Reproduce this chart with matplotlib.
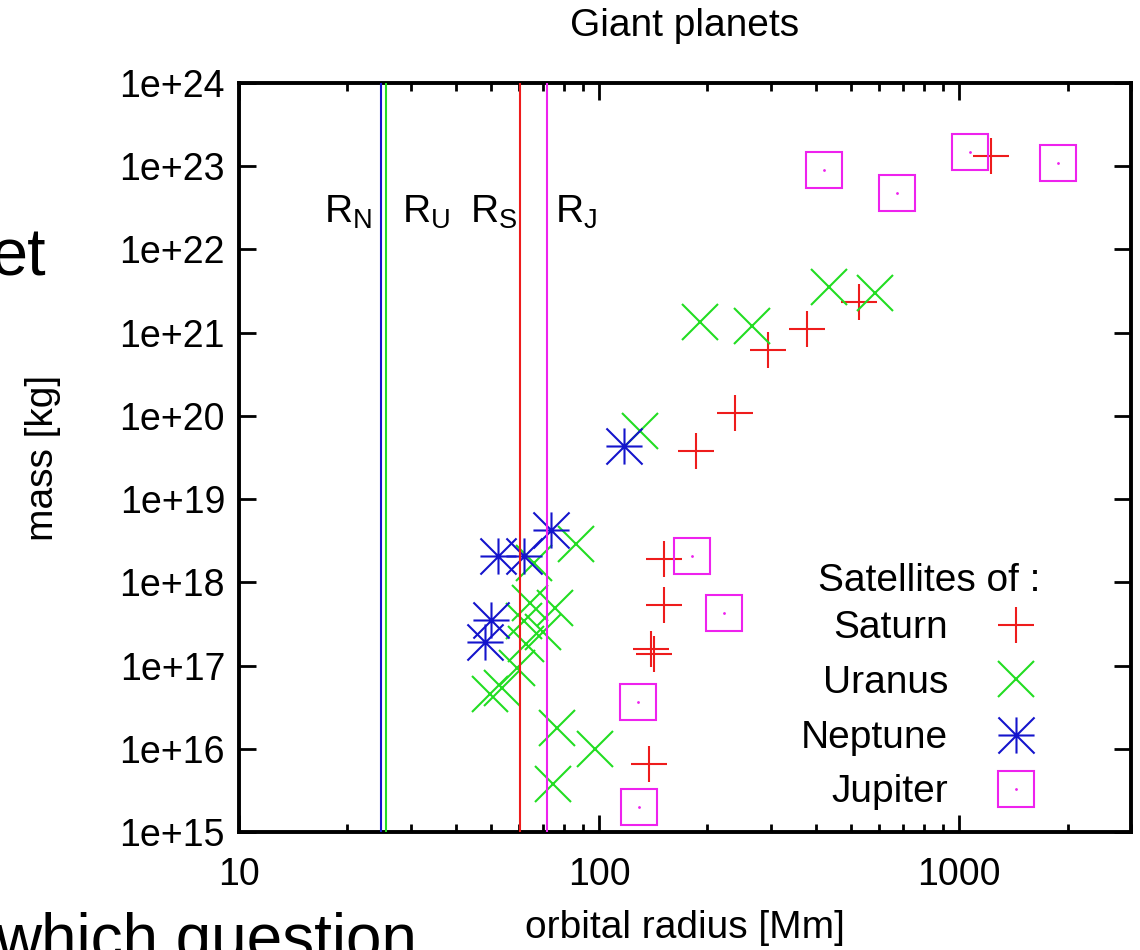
import numpy as np
import matplotlib
matplotlib.use("Agg")
import matplotlib.pyplot as plt
from matplotlib.path import Path
from matplotlib.ticker import LogLocator, NullLocator, NullFormatter, FuncFormatter

plt.rcParams['font.family'] = ['Liberation Sans', 'DejaVu Sans']
plt.rcParams['font.size'] = 28
plt.rcParams['xtick.labelsize'] = 27
plt.rcParams['ytick.labelsize'] = 27
plt.rcParams['mathtext.fontset'] = 'custom'
plt.rcParams['mathtext.rm'] = 'Liberation Sans'

# orbital radius [Mm] and mass [kg] of the satellites
sat_r = [137.7, 139.4, 141.7, 151.4, 151.5, 185.5, 238.0, 294.7, 377.4, 527.1, 1221.9]
sat_m = [6.6e15, 1.6e17, 1.37e17, 5.3e17, 1.9e18, 3.75e19, 1.08e20, 6.17e20, 1.095e21, 2.31e21, 1.345e23]

ura_r = [49.8, 53.8, 59.2, 61.8, 62.7, 64.4, 66.1, 69.9, 74.4, 75.3, 76.4, 86.0, 97.7,
         129.9, 190.9, 266.0, 436.3, 583.5]
ura_m = [4.5e16, 5.4e16, 9.3e16, 3.4e17, 1.8e17, 5.6e17, 1.7e18, 2.5e17, 3.8e15, 4.9e17, 1.8e16,
         2.9e18, 1.0e16, 6.6e19, 1.35e21, 1.2e21, 3.5e21, 3.0e21]

nep_r = [48.2, 50.1, 52.5, 62.0, 73.5, 117.6]
nep_m = [1.9e17, 3.5e17, 2.1e18, 2.1e18, 4.2e18, 4.4e19]

jup_r = [128.0, 129.0, 181.4, 221.9, 421.7, 671.0, 1070.4, 1882.7]
jup_m = [3.6e16, 2.0e15, 2.08e18, 4.3e17, 8.93e22, 4.80e22, 1.48e23, 1.08e23]

# planet radii [Mm]
planet_labels = [r'$\mathrm{R_N}$', r'$\mathrm{R_U}$', r'$\mathrm{R_S}$', r'$\mathrm{R_J}$']
planet_radii = [24.76, 25.56, 60.27, 71.49]

RED = '#ee1c1c'
GREEN = '#22dd22'
BLUE = '#1414cc'
MAGENTA = '#ee22ee'
MS = 26
MEW = 1.5

# gnuplot-like star: plus and cross on top of each other
star = Path([(-1, 0), (1, 0), (0, -1), (0, 1), (-1, -1), (1, 1), (-1, 1), (1, -1)],
            [Path.MOVETO, Path.LINETO] * 4)

fig = plt.figure(figsize=(11.4, 9.5), dpi=100)
ax = fig.add_axes([239 / 1140, 118 / 950, 892 / 1140, 749 / 950])

ax.plot(sat_r, sat_m, ls='none', marker='+', ms=MS, mew=MEW, color=RED)
ax.plot(ura_r, ura_m, ls='none', marker='x', ms=MS, mew=MEW, color=GREEN)
ax.plot(nep_r, nep_m, ls='none', marker=star, ms=MS, mew=MEW, color=BLUE)
ax.plot(jup_r, jup_m, ls='none', marker='s', ms=MS, mew=MEW, mfc='none', mec=MAGENTA)
ax.plot(jup_r, jup_m, ls='none', marker='.', ms=2, color=MAGENTA)

# planet radius lines with their labels
line_colors = [BLUE, GREEN, RED, MAGENTA]
label_ha = ['right', 'left', 'right', 'left']
label_dx = [-6.5, 12, -1.5, 6]
for lab, r, c, ha, dx in zip(planet_labels, planet_radii, line_colors, label_ha, label_dx):
    ax.axvline(r, color=c, lw=1.5, zorder=5)
    ax.annotate(lab, xy=(r, 0.813), xycoords=('data', 'axes fraction'),
                xytext=(dx, 0), textcoords='offset points', ha=ha, va='baseline')

ax.set_xscale('log')
ax.set_yscale('log')
ax.set_xlim(10, 3000)
ax.set_ylim(1e15, 1e24)

ax.xaxis.set_major_locator(LogLocator(base=10, numticks=10))
ax.xaxis.set_minor_locator(LogLocator(base=10, subs=np.arange(2, 10), numticks=10))
ax.xaxis.set_minor_formatter(NullFormatter())
ax.xaxis.set_major_formatter(FuncFormatter(lambda v, p: f"{v:g}"))
ax.yaxis.set_major_locator(LogLocator(base=10, numticks=20))
ax.yaxis.set_minor_locator(NullLocator())
ax.yaxis.set_major_formatter(FuncFormatter(lambda v, p: f"1e+{int(round(np.log10(v)))}"))

ax.tick_params(which='both', direction='in', top=True, right=True, width=2)
ax.tick_params(which='major', length=12)
ax.tick_params(which='minor', length=6)
ax.tick_params(axis='x', pad=18)
ax.tick_params(axis='y', pad=10)
for s in ax.spines.values():
    s.set_linewidth(2.8)

ax.set_title('Giant planets', pad=34, fontsize=28)
ax.set_xlabel('orbital radius [Mm]', labelpad=12)
ax.set_ylabel('mass [kg]', labelpad=42)

# key, labels right-aligned next to their symbols
ax.text(0.898, 0.322, 'Satellites of :', transform=ax.transAxes, ha='right', va='baseline')
key_names = ['Saturn', 'Uranus', 'Neptune', 'Jupiter']
key_y = [0.277, 0.204, 0.130, 0.058]
key_style = [dict(marker='+', color=RED),
             dict(marker='x', color=GREEN),
             dict(marker=star, color=BLUE),
             dict(marker='s', mfc='none', mec=MAGENTA)]
for name, y, st in zip(key_names, key_y, key_style):
    ax.text(0.795, y - 0.018, name, transform=ax.transAxes, ha='right', va='baseline')
    ax.plot([0.871], [y], transform=ax.transAxes, ls='none', ms=MS, mew=MEW, clip_on=False, **st)
ax.plot([0.871], [0.058], transform=ax.transAxes, ls='none', marker='.', ms=2, color=MAGENTA)

# slide text around the chart
fig.text(46 / 1140, 674 / 950, 'et', ha='right', va='baseline', fontsize=48)
fig.text(-0.004, -9 / 950, 'which question', ha='left', va='baseline', fontsize=46)

fig.savefig('out.png', dpi=100)
